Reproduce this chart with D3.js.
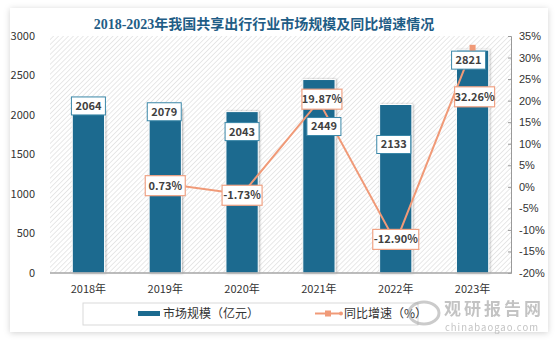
<!DOCTYPE html>
<html>
<head>
<meta charset="utf-8">
<script src="https://cdn.jsdelivr.net/npm/d3@7/dist/d3.min.js"></script>
<style>
  html, body { margin: 0; padding: 0; background: #fff; }
  svg { display: block; font-family: "Noto Sans CJK SC", "Noto Sans", sans-serif; }
  .tick-lab { font-size: 11px; fill: #333; }
  .box-lab { font-size: 11px; font-weight: bold; fill: #404040; }
</style>
</head>
<body>
<div id="chart"></div>
<script>
const years = ['2018年', '2019年', '2020年', '2021年', '2022年', '2023年']
const scale = [2064, 2079, 2043, 2449, 2133, 2821]
const growth = [null, 0.73, -1.73, 19.87, -12.90, 32.26]
const leftTicks = [0, 500, 1000, 1500, 2000, 2500, 3000]
const rightTicks = [-20, -15, -10, -5, 0, 5, 10, 15, 20, 25, 30, 35]

// label nudges (px) so the boxes don't collide, as in the original
const barLabShift = [-4, 3, 20, 47, 40, 10]
const barLabDx = [0, -1, 0, 5, -2, -4]
const lineLabShift = [0, 2, 1, -2, -3, 49]
const lineLabDx = [0, 0, 0, 3, 0, 2]

const width = 560, height = 341
const margin = {top: 36, bottom: 68, left: 50, right: 49}

const svg = d3.select('#chart').append('svg')
  .attr('width', width).attr('height', height)

const defs = svg.append('defs')
const shadow = defs.append('filter').attr('id', 'shadow')
  .attr('x', '-5%').attr('y', '-5%').attr('width', '110%').attr('height', '115%')
shadow.append('feDropShadow').attr('dx', 0).attr('dy', 1).attr('stdDeviation', 3)
  .attr('flood-color', '#000').attr('flood-opacity', 0.18)

const barShadow = defs.append('filter').attr('id', 'barshadow')
  .attr('x', '-30%').attr('y', '-10%').attr('width', '160%').attr('height', '120%')
barShadow.append('feDropShadow').attr('dx', 1).attr('dy', 0).attr('stdDeviation', 1.2)
  .attr('flood-color', '#000').attr('flood-opacity', 0.3)

const hatch = defs.append('pattern').attr('id', 'hatch')
  .attr('width', 3.5).attr('height', 3.5)
  .attr('patternUnits', 'userSpaceOnUse')
  .attr('patternTransform', 'rotate(45)')
hatch.append('rect').attr('width', 3.5).attr('height', 3.5).attr('fill', '#fff')
hatch.append('line').attr('x1', 0).attr('y1', 0).attr('x2', 0).attr('y2', 3.5)
  .attr('stroke', '#d6d6d6').attr('stroke-width', 1.1)

// card
svg.append('rect')
  .attr('x', 10).attr('y', 8).attr('width', 538).attr('height', 324)
  .attr('fill', '#fff').attr('filter', 'url(#shadow)')

svg.append('text')
  .attr('x', 264).attr('y', 29)
  .attr('text-anchor', 'middle')
  .attr('font-size', 14).attr('font-weight', 'bold')
  .attr('font-family', '"Liberation Serif", "Noto Sans CJK SC", serif')
  .attr('fill', '#1f5d86')
  .text('2018-2023年我国共享出行行业市场规模及同比增速情况')

const x = d3.scaleBand()
  .domain(years)
  .range([margin.left, width - margin.right])
  .paddingInner(0.58).paddingOuter(0.29)

const yL = d3.scaleLinear().domain([0, 3000]).range([height - margin.bottom, margin.top])
const yR = d3.scaleLinear().domain([-20, 35]).range([height - margin.bottom, margin.top])

const plotW = width - margin.right - margin.left
const plotBottom = height - margin.bottom

svg.append('rect')
  .attr('x', margin.left).attr('y', margin.top)
  .attr('width', plotW).attr('height', plotBottom - margin.top)
  .attr('fill', 'url(#hatch)')

// left axis labels
svg.append('g').selectAll('text')
  .data(leftTicks).enter().append('text')
  .attr('class', 'tick-lab')
  .attr('x', 35).attr('y', d => yL(d)).attr('dy', '0.35em')
  .attr('text-anchor', 'end')
  .text(d => d)

// right axis
const rAxis = svg.append('g')
  .attr('transform', `translate(${width - margin.right},0)`)
  .call(d3.axisRight(yR).tickValues(rightTicks).tickSize(-3).tickPadding(8).tickFormat(d => d + '%'))
rAxis.select('.domain').attr('stroke', '#999')
rAxis.selectAll('.tick line').attr('stroke', '#999')
rAxis.selectAll('.tick text').attr('class', 'tick-lab').attr('font-size', 11)
  .attr('font-family', null).attr('fill', '#333')

// bars
svg.append('g').selectAll('rect')
  .data(scale).enter().append('rect')
  .attr('x', (d, i) => x(years[i]))
  .attr('y', d => yL(d))
  .attr('width', x.bandwidth())
  .attr('height', d => yL(0) - yL(d))
  .attr('fill', '#1b6a8f')
  .attr('stroke', '#fff').attr('stroke-width', 1)
  .attr('filter', 'url(#barshadow)')

// baseline
svg.append('line')
  .attr('x1', margin.left).attr('x2', width - margin.right)
  .attr('y1', plotBottom).attr('y2', plotBottom)
  .attr('stroke', '#a6a6a6').attr('stroke-width', 1.5)

// growth line
const pts = growth.map((v, i) => ({v, i})).filter(d => d.v !== null)
const cx = i => x(years[i]) + x.bandwidth() / 2
const line = d3.line().x(d => cx(d.i)).y(d => yR(d.v))

svg.append('path')
  .attr('d', line(pts))
  .attr('fill', 'none')
  .attr('stroke', '#f09a78')
  .attr('stroke-width', 2)

svg.append('g').selectAll('rect')
  .data(pts).enter().append('rect')
  .attr('x', d => cx(d.i) - 3).attr('y', d => yR(d.v) - 3)
  .attr('width', 6).attr('height', 6)
  .attr('fill', '#f09a78')

// bar value labels
const barLabs = svg.append('g').selectAll('g')
  .data(scale).enter().append('g')
  .attr('transform', (d, i) => `translate(${cx(i) + barLabDx[i]},${yL(d) + barLabShift[i]})`)
barLabs.append('rect')
  .attr('x', -17).attr('y', -9).attr('width', 34).attr('height', 18)
  .attr('fill', '#fff').attr('stroke', '#3a87a8').attr('stroke-width', 1)
barLabs.append('text')
  .attr('class', 'box-lab')
  .attr('text-anchor', 'middle').attr('dy', '0.36em')
  .text(d => d)

// growth labels
const lineLabs = svg.append('g').selectAll('g')
  .data(pts).enter().append('g')
  .attr('transform', d => `translate(${cx(d.i) + lineLabDx[d.i]},${yR(d.v) + lineLabShift[d.i]})`)
lineLabs.append('rect')
  .attr('x', d => d.v.toFixed(2).length > 5 ? -23 : -20)
  .attr('y', -10)
  .attr('width', d => d.v.toFixed(2).length > 5 ? 46 : 40)
  .attr('height', 20)
  .attr('fill', '#fff').attr('stroke', '#f0a385').attr('stroke-width', 1.2)
lineLabs.append('text')
  .attr('class', 'box-lab')
  .attr('text-anchor', 'middle').attr('dy', '0.36em')
  .text(d => d.v.toFixed(2) + '%')

// legend
const lg = svg.append('g')
lg.append('rect')
  .attr('x', 83).attr('y', 303).attr('width', 335).attr('height', 22)
  .attr('fill', '#fff').attr('stroke', '#d9d9d9')
lg.append('rect')
  .attr('x', 138).attr('y', 311).attr('width', 22).attr('height', 5)
  .attr('fill', '#1b6a8f')
lg.append('text')
  .attr('x', 163).attr('y', 318).attr('font-size', 12).attr('fill', '#333')
  .text('市场规模（亿元）')
lg.append('line')
  .attr('x1', 315).attr('x2', 342).attr('y1', 313.5).attr('y2', 313.5)
  .attr('stroke', '#f09a78').attr('stroke-width', 2)
lg.append('rect')
  .attr('x', 325).attr('y', 310.5).attr('width', 6).attr('height', 6)
  .attr('fill', '#f09a78')
lg.append('circle')
  .attr('cx', 341).attr('cy', 313.5).attr('r', 2)
  .attr('fill', '#f09a78')
lg.append('text')
  .attr('x', 344).attr('y', 318).attr('font-size', 12).attr('fill', '#333')
  .text('同比增速（%）')

// watermark
const wm = svg.append('g').attr('opacity', 0.5)
wm.append('ellipse')
  .attr('cx', 424).attr('cy', 313).attr('rx', 15).attr('ry', 11)
  .attr('fill', 'none').attr('stroke', '#999').attr('stroke-width', 3)
wm.append('text')
  .attr('x', 494).attr('y', 315).attr('text-anchor', 'middle')
  .attr('font-size', 17).attr('font-weight', 'bold').attr('fill', '#888')
  .attr('letter-spacing', 3)
  .text('观研报告网')
wm.append('text')
  .attr('x', 492).attr('y', 331).attr('text-anchor', 'middle')
  .attr('font-size', 9.5).attr('fill', '#888').attr('letter-spacing', 1)
  .text('chinabaogao.com')

// x labels
svg.append('g').selectAll('text')
  .data(years).enter().append('text')
  .attr('class', 'tick-lab')
  .attr('x', d => x(d) + x.bandwidth() / 2)
  .attr('y', 293)
  .attr('text-anchor', 'middle')
  .text(d => d)
</script>
</body>
</html>
